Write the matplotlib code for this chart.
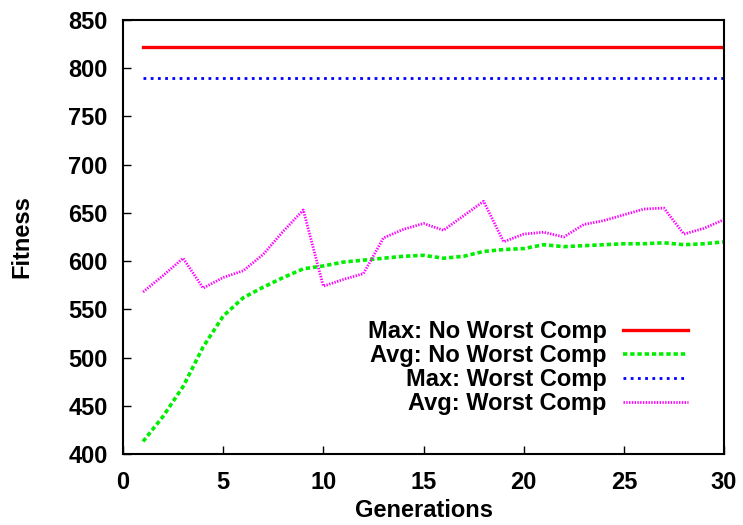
import matplotlib
matplotlib.use("Agg")
import matplotlib.pyplot as plt

generations = list(range(1, 31))

max_no_worst = [822] * 30
avg_no_worst = [413, 439, 470, 511, 543, 562, 573, 583, 592, 595,
                599, 601, 603, 605, 606, 603, 605, 610, 612, 613,
                617, 615, 616, 617, 618, 618, 619, 617, 618, 620]
max_worst = [790] * 30
avg_worst = [568, 585, 603, 572, 583, 590, 607, 631, 653, 574,
             581, 587, 624, 633, 639, 632, 647, 662, 620, 628,
             630, 625, 638, 642, 648, 654, 655, 628, 634, 643]

labels = ["Max: No Worst Comp", "Avg: No Worst Comp",
          "Max: Worst Comp", "Avg: Worst Comp"]

plt.rcParams["font.family"] = ["Liberation Sans", "DejaVu Sans"]
plt.rcParams["font.weight"] = "bold"

fig = plt.figure(figsize=(7.43, 5.25), dpi=100)
ax = fig.add_axes([123 / 743, 1 - 454 / 525, (724 - 123) / 743, (454 - 20) / 525])

ax.plot(generations, max_no_worst, color="#ff0000", lw=2.4, linestyle="-", label=labels[0])
ax.plot(generations, avg_no_worst, color="#00ee00", lw=2.6, linestyle=(0, (1.2, 0.8)), label=labels[1])
ax.plot(generations, max_worst, color="#0000ff", lw=2.0, linestyle=(0, (1.0, 1.6)), label=labels[2])
ax.plot(generations, avg_worst, color="#ff00ff", lw=2.0, linestyle=(0, (0.5, 0.5)), label=labels[3])

ax.set_xlim(0, 30)
ax.set_ylim(400, 850)
ax.set_xticks(range(0, 31, 5))
ax.set_yticks(range(400, 851, 50))
ax.tick_params(direction="in", length=6, width=1, labelsize=17,
               top=False, right=False)
ax.tick_params(axis="x", pad=12)
ax.tick_params(axis="y", pad=11)
for lbl in ax.get_xticklabels() + ax.get_yticklabels():
    lbl.set_fontweight("bold")
for s in ax.spines.values():
    s.set_linewidth(1.5)

ax.set_xlabel("Generations", fontsize=17, fontweight="bold", labelpad=4)
ax.set_ylabel("Fitness", fontsize=17, fontweight="bold", labelpad=25)

leg = ax.legend(loc="lower right", bbox_to_anchor=(0.975, 0.04), frameon=False,
                markerfirst=False, handlelength=2.75, handletextpad=0.68,
                labelspacing=0.05, prop={"size": 17, "weight": "bold"})
for t in leg.get_texts():
    t.set_ha("right")
leg._legend_box.align = "right"

fig.savefig("out.png", dpi=100)
